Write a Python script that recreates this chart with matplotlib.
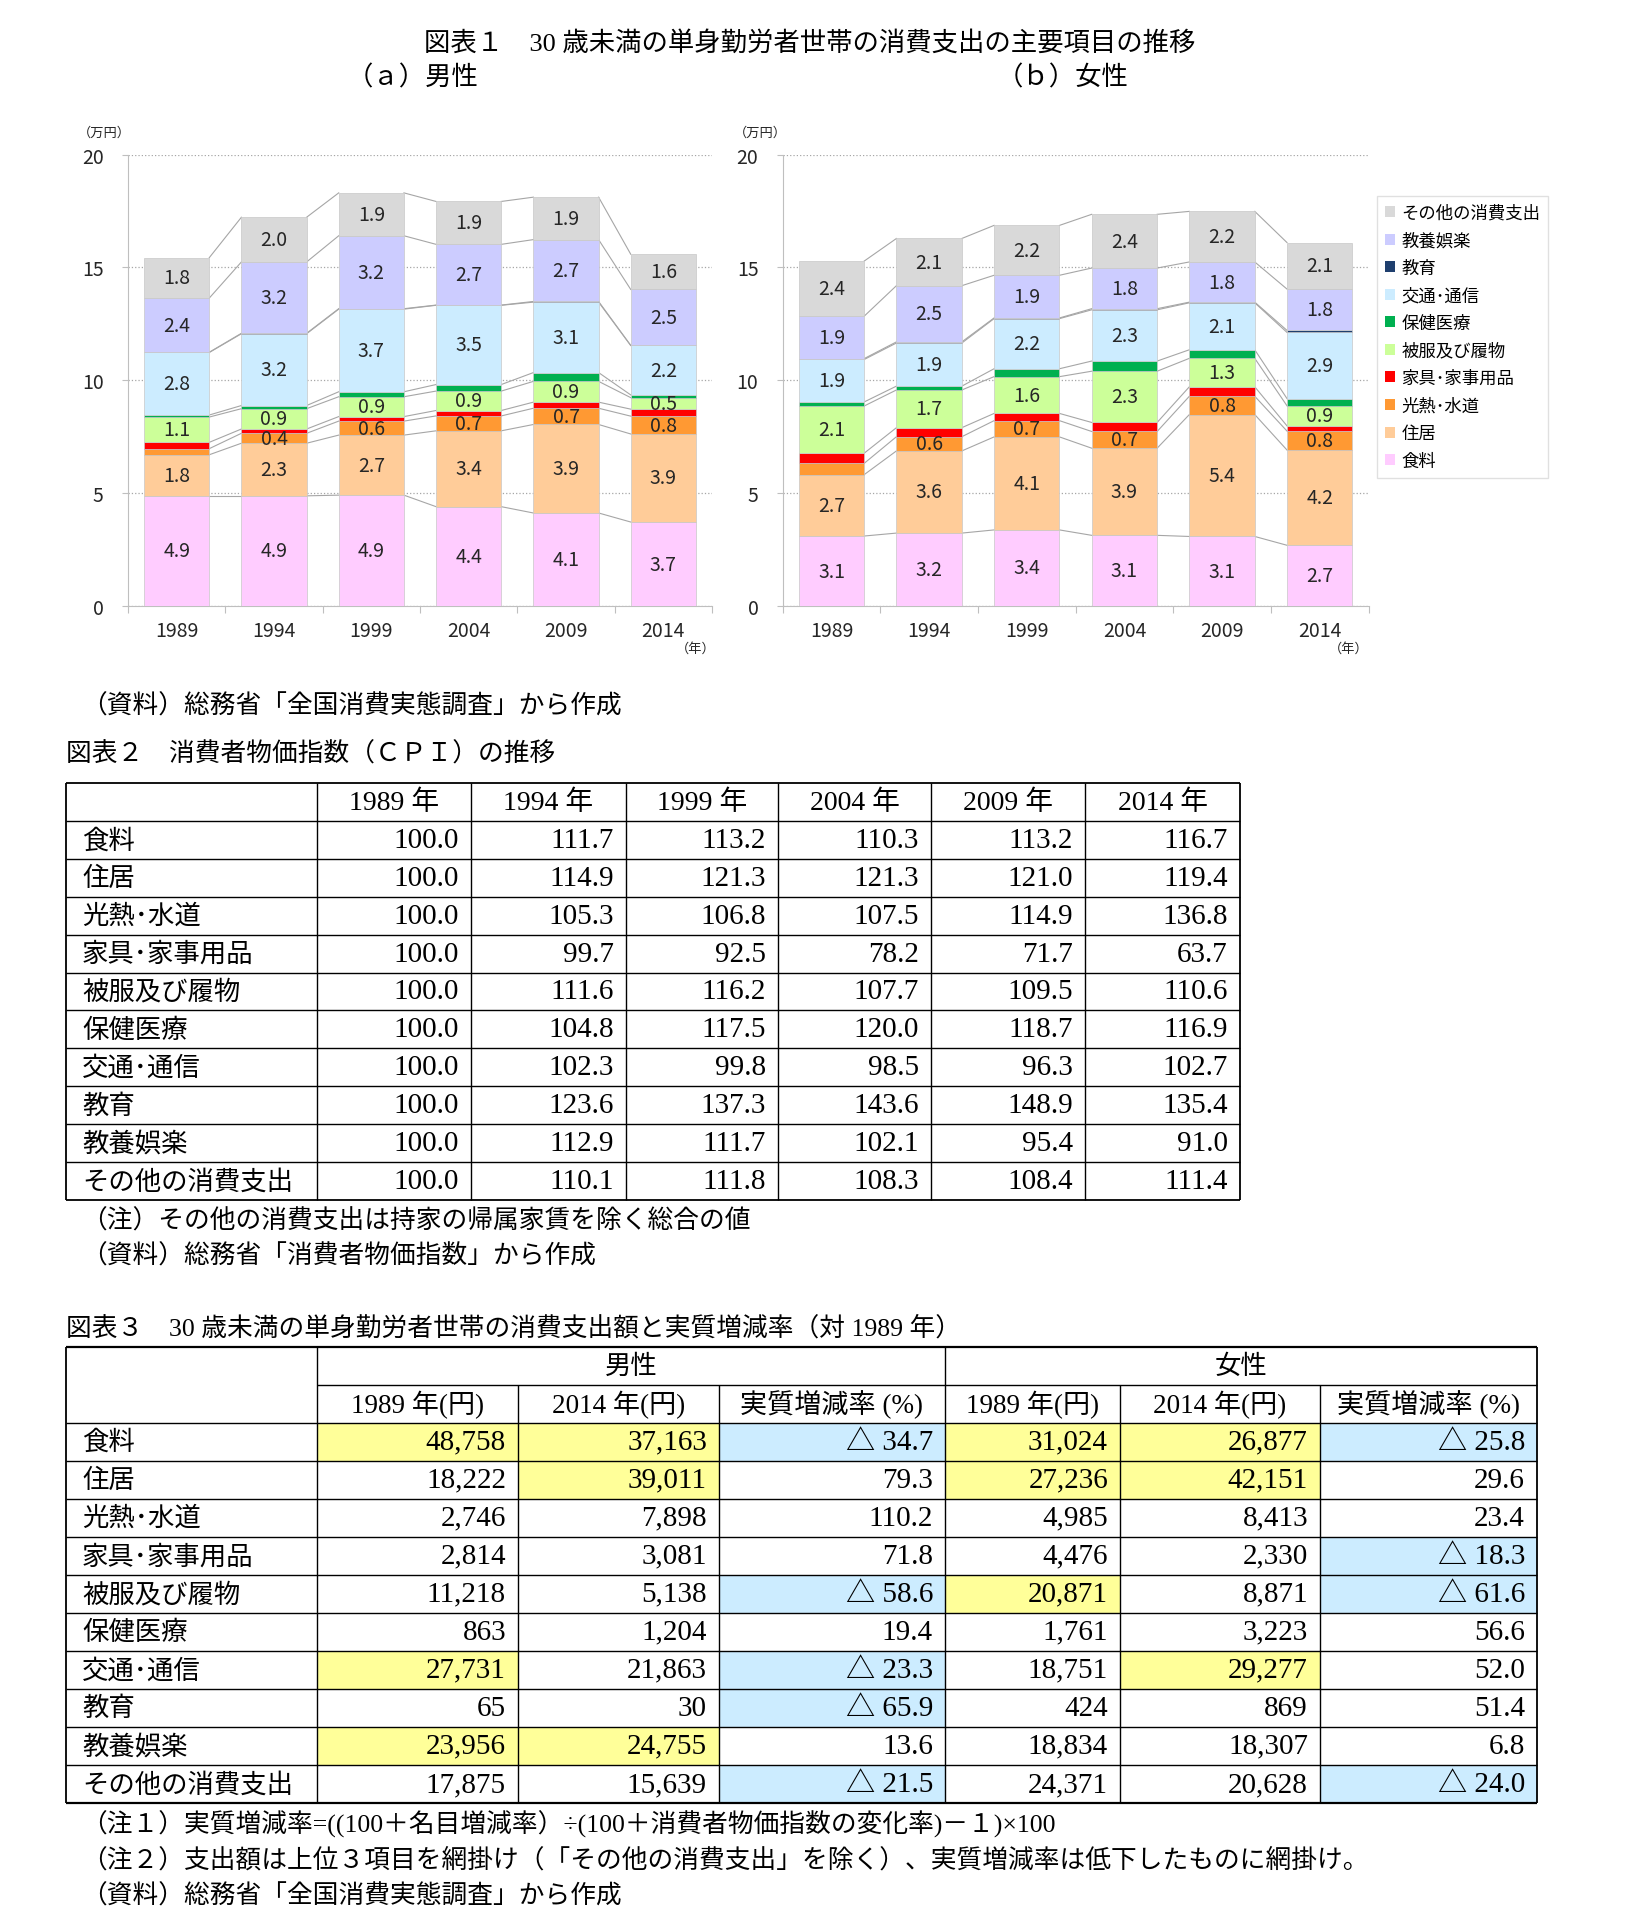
import numpy as np
import matplotlib
matplotlib.use('Agg')
import matplotlib.pyplot as plt
from matplotlib.patches import Rectangle, Patch

plt.rcParams['font.family'] = ['Noto Sans CJK JP', 'DejaVu Sans']

# ---- 図表１ データ（万円）----
years = ['1989', '1994', '1999', '2004', '2009', '2014']
items = ['食料', '住居', '光熱･水道', '家具･家事用品', '被服及び履物',
         '保健医療', '交通･通信', '教育', '教養娯楽', 'その他の消費支出']
colors = ['#FFCCFF', '#FFCC99', '#FF9933', '#FF0000', '#CCFF99',
          '#00B050', '#CCECFF', '#1F3F6E', '#CCCCFF', '#D9D9D9']

male_food = [4.88, 4.88, 4.91, 4.40, 4.12, 3.72]
male_housing = [1.82, 2.33, 2.66, 3.36, 3.92, 3.90]
male_utility = [0.27, 0.44, 0.62, 0.66, 0.72, 0.79]
male_furniture = [0.28, 0.19, 0.20, 0.24, 0.27, 0.31]
male_clothing = [1.12, 0.90, 0.88, 0.86, 0.92, 0.51]
male_health = [0.09, 0.14, 0.22, 0.29, 0.39, 0.12]
male_transport = [2.77, 3.18, 3.66, 3.51, 3.12, 2.19]
male_education = [0.01, 0.02, 0.02, 0.01, 0.03, 0.003]
male_culture = [2.40, 3.16, 3.23, 2.69, 2.74, 2.48]
male_other = [1.79, 1.98, 1.90, 1.90, 1.88, 1.56]

female_food = [3.10, 3.23, 3.37, 3.13, 3.08, 2.69]
female_housing = [2.72, 3.64, 4.12, 3.86, 5.40, 4.22]
female_utility = [0.50, 0.63, 0.72, 0.74, 0.81, 0.84]
female_furniture = [0.45, 0.40, 0.32, 0.40, 0.42, 0.23]
female_clothing = [2.09, 1.67, 1.63, 2.27, 1.26, 0.89]
female_health = [0.18, 0.17, 0.35, 0.45, 0.38, 0.32]
female_transport = [1.88, 1.91, 2.22, 2.27, 2.08, 2.93]
female_education = [0.04, 0.05, 0.03, 0.05, 0.03, 0.09]
female_culture = [1.88, 2.49, 1.89, 1.80, 1.78, 1.83]
female_other = [2.44, 2.09, 2.21, 2.38, 2.24, 2.06]

male = [male_food, male_housing, male_utility, male_furniture, male_clothing,
        male_health, male_transport, male_education, male_culture, male_other]
female = [female_food, female_housing, female_utility, female_furniture, female_clothing,
          female_health, female_transport, female_education, female_culture, female_other]

# ラベルを出す系列（1989年の光熱・水道は無し）
labeled = ['食料', '住居', '光熱･水道', '被服及び履物', '交通･通信', '教養娯楽', 'その他の消費支出']
hidden = [('光熱･水道', 0)]

# ---- 図表２ CPI ----
cpi_years = ['1989 年', '1994 年', '1999 年', '2004 年', '2009 年', '2014 年']
cpi_1989 = [100.0] * 10
cpi_1994 = [111.7, 114.9, 105.3, 99.7, 111.6, 104.8, 102.3, 123.6, 112.9, 110.1]
cpi_1999 = [113.2, 121.3, 106.8, 92.5, 116.2, 117.5, 99.8, 137.3, 111.7, 111.8]
cpi_2004 = [110.3, 121.3, 107.5, 78.2, 107.7, 120.0, 98.5, 143.6, 102.1, 108.3]
cpi_2009 = [113.2, 121.0, 114.9, 71.7, 109.5, 118.7, 96.3, 148.9, 95.4, 108.4]
cpi_2014 = [116.7, 119.4, 136.8, 63.7, 110.6, 116.9, 102.7, 135.4, 91.0, 111.4]

# ---- 図表３ 支出額と実質増減率 ----
m_1989 = [48758, 18222, 2746, 2814, 11218, 863, 27731, 65, 23956, 17875]
m_2014 = [37163, 39011, 7898, 3081, 5138, 1204, 21863, 30, 24755, 15639]
m_rate = [-34.7, 79.3, 110.2, 71.8, -58.6, 19.4, -23.3, -65.9, 13.6, -21.5]
f_1989 = [31024, 27236, 4985, 4476, 20871, 1761, 18751, 424, 18834, 24371]
f_2014 = [26877, 42151, 8413, 2330, 8871, 3223, 29277, 869, 18307, 20628]
f_rate = [-25.8, 29.6, 23.4, -18.3, -61.6, 56.6, 52.0, 51.4, 6.8, -24.0]

W, H = 1637, 1924
fig = plt.figure(figsize=(W / 100, H / 100), dpi=100)

# 全体のテキスト・表用の軸（ピクセル座標）
tax = fig.add_axes([0, 0, 1, 1])
tax.set_xlim(0, W)
tax.set_ylim(H, 0)
tax.axis('off')

SERIF = ['Liberation Serif', 'Noto Sans CJK JP']
JP = ['Noto Sans CJK JP']

BW = 0.67


def draw_stack(ax, series):
    x = np.arange(len(years))
    bottom = np.zeros(len(years))
    tops = []
    for k, vals in enumerate(series):
        vals = np.array(vals, dtype=float)
        ax.bar(x, vals, width=BW, bottom=bottom, color=colors[k],
               edgecolor='#c8c8c8', linewidth=0.5, zorder=3)
        for i, v in enumerate(vals):
            if items[k] in labeled and (items[k], i) not in hidden:
                ax.text(x[i], bottom[i] + v / 2, f'{v:.1f}', ha='center', va='center',
                        fontsize=14, color='#262626', zorder=5)
        bottom = bottom + vals
        tops.append(bottom.copy())
    # 区分線
    for t in tops:
        for i in range(len(x) - 1):
            ax.plot([x[i] + BW / 2, x[i + 1] - BW / 2], [t[i], t[i + 1]],
                    color='#a6a6a6', lw=0.8, zorder=2)
    ax.set_xlim(-0.5, len(years) - 0.5)
    ax.set_ylim(0, 20)
    ax.set_yticks([0, 5, 10, 15, 20])
    ax.set_xticks(x)
    ax.set_xticklabels(years)
    ax.set_xticks(np.arange(-0.5, len(years)), minor=True)
    ax.tick_params(axis='x', which='major', length=0, pad=10, labelsize=14, labelcolor='#262626')
    ax.tick_params(axis='x', which='minor', length=5, color='#bfbfbf', width=0.8)
    ax.tick_params(axis='y', length=4.5, color='#bfbfbf', width=0.8, pad=13,
                   labelsize=14, labelcolor='#262626')
    for s in ['top', 'right']:
        ax.spines[s].set_visible(False)
    for s in ['left', 'bottom']:
        ax.spines[s].set_color('#bfbfbf')
        ax.spines[s].set_linewidth(0.8)
    ax.yaxis.grid(True, linestyle=':', color='#a6a6a6', linewidth=0.9, zorder=0)
    ax.set_axisbelow(True)


ax1 = fig.add_axes([128 / W, 1 - 607 / H, (712 - 128) / W, (607 - 155.5) / H])
draw_stack(ax1, male)
ax2 = fig.add_axes([782.7 / W, 1 - 607 / H, (1368.5 - 782.7) / W, (607 - 155.5) / H])
draw_stack(ax2, female)

for x0, x1 in [(104, 696), (760, 1349)]:
    tax.text(x0, 133, '（万円）', ha='center', va='center', fontsize=9.5, color='#262626')
    tax.text(x1, 649, '（年）', ha='center', va='center', fontsize=9.5, color='#262626')

handles = [Patch(facecolor=colors[k], edgecolor='none', label=items[k]) for k in range(len(items))][::-1]
fig.legend(handles=handles, loc='upper left', bbox_to_anchor=(1377 / W, 1 - 197 / H),
           fontsize=12.5, frameon=True, fancybox=False, edgecolor='#d9d9d9',
           handlelength=0.6, handleheight=0.6, handletextpad=0.35, labelspacing=0.55,
           borderpad=0.45, borderaxespad=0)

# ---- 見出し ----
tax.text(810, 43, '図表１　30 歳未満の単身勤労者世帯の消費支出の主要項目の推移',
         ha='center', va='center', fontsize=19, family=SERIF)
tax.text(413, 78, '（ａ）男性', ha='center', va='center', fontsize=19, family=SERIF)
tax.text(1063, 78, '（ｂ）女性', ha='center', va='center', fontsize=19, family=SERIF)
tax.text(81, 706, '（資料）総務省「全国消費実態調査」から作成', ha='left', va='center',
         fontsize=18.5, family=SERIF)
tax.text(66, 754, '図表２　消費者物価指数（ＣＰＩ）の推移', ha='left', va='center',
         fontsize=18.5, family=SERIF)


def hline(y, x0, x1, lw=1.0):
    tax.plot([x0, x1], [y, y], color='black', lw=lw, solid_capstyle='butt')


def vline(x, y0, y1, lw=1.0):
    tax.plot([x, x], [y0, y1], color='black', lw=lw, solid_capstyle='butt')


# ---- 図表２ 表 ----
cols2 = [66, 317, 471, 626, 778, 931, 1085, 1240]
top2 = 784
rh2 = 37.9
cpi_cols = [cpi_1989, cpi_1994, cpi_1999, cpi_2004, cpi_2009, cpi_2014]
n2 = len(items) + 1
for r in range(n2 + 1):
    hline(top2 + r * rh2, cols2[0], cols2[-1], 1.3 if r in (0, n2) else 1.0)
for c, xc in enumerate(cols2):
    vline(xc, top2, top2 + n2 * rh2, 1.3 if c in (0, len(cols2) - 1) else 1.0)
for j, lab in enumerate(cpi_years):
    tax.text((cols2[j + 1] + cols2[j + 2]) / 2, top2 + rh2 / 2, lab, ha='center', va='center',
             fontsize=20, family=SERIF)
for i, name in enumerate(items):
    yc = top2 + (i + 1.5) * rh2
    tax.text(cols2[0] + 16, yc, name, ha='left', va='center', fontsize=19, family=JP)
    for j, col in enumerate(cpi_cols):
        tax.text(cols2[j + 2] - 12, yc, f'{col[i]:.1f}', ha='right', va='center',
                 fontsize=21, family=SERIF)

tax.text(81, 1221, '（注）その他の消費支出は持家の帰属家賃を除く総合の値', ha='left', va='center',
         fontsize=18.5, family=SERIF)
tax.text(81, 1256, '（資料）総務省「消費者物価指数」から作成', ha='left', va='center',
         fontsize=18.5, family=SERIF)
tax.text(66, 1328, '図表３　30 歳未満の単身勤労者世帯の消費支出額と実質増減率（対 1989 年）',
         ha='left', va='center', fontsize=18.5, family=SERIF)

# ---- 図表３ 表 ----
cols3 = [66, 317, 518, 719, 945, 1120, 1320, 1537]
top3 = 1347.5
hh3 = 38.0
rh3 = 38.04
data_top = top3 + 2 * hh3
bot3 = data_top + len(items) * rh3
yellow = '#FFFF99'
blue = '#CCECFF'

table_cols = [m_1989, m_2014, m_rate, f_1989, f_2014, f_rate]
for j, col in enumerate(table_cols):
    is_rate = j in (2, 5)
    if not is_rate:
        ranked = sorted(col[:-1], reverse=True)[:3]
    for i, v in enumerate(col):
        y0 = data_top + i * rh3
        fill = None
        if is_rate and v < 0:
            fill = blue
        elif not is_rate and i < len(col) - 1 and v in ranked:
            fill = yellow
        if fill:
            tax.add_patch(Rectangle((cols3[j + 1], y0), cols3[j + 2] - cols3[j + 1], rh3,
                                    facecolor=fill, edgecolor='none', zorder=1))
        if is_rate:
            s = f'△ {abs(v):.1f}' if v < 0 else f'{v:.1f}'
        else:
            s = f'{v:,}'
        tax.text(cols3[j + 2] - 12, y0 + rh3 / 2, s, ha='right', va='center',
                 fontsize=21, family=SERIF, zorder=3)

for i, name in enumerate(items):
    tax.text(cols3[0] + 16, data_top + (i + 0.5) * rh3, name, ha='left', va='center',
             fontsize=19, family=JP)

tax.text((cols3[1] + cols3[4]) / 2, top3 + hh3 / 2, '男性', ha='center', va='center',
         fontsize=19, family=JP)
tax.text((cols3[4] + cols3[7]) / 2, top3 + hh3 / 2, '女性', ha='center', va='center',
         fontsize=19, family=JP)
sub_heads = ['1989 年(円)', '2014 年(円)', '実質増減率 (%)'] * 2
for j, s in enumerate(sub_heads):
    tax.text((cols3[j + 1] + cols3[j + 2]) / 2, top3 + 1.5 * hh3, s, ha='center', va='center',
             fontsize=19.5, family=SERIF)

hline(top3, cols3[0], cols3[-1], 1.6)
hline(top3 + hh3, cols3[1], cols3[-1])
for r in range(len(items) + 1):
    yy = data_top + r * rh3
    hline(yy, cols3[0], cols3[-1], 1.6 if r == len(items) else 1.0)
for c in [0, 1, 4, 7]:
    vline(cols3[c], top3, bot3, 1.3 if c in (0, 7) else 1.0)
for c in [2, 3, 5, 6]:
    vline(cols3[c], top3 + hh3, bot3)

notes = ['（注１）実質増減率=((100＋名目増減率）÷(100＋消費者物価指数の変化率)－１)×100',
         '（注２）支出額は上位３項目を網掛け（「その他の消費支出」を除く）、実質増減率は低下したものに網掛け。',
         '（資料）総務省「全国消費実態調査」から作成']
for k, s in enumerate(notes):
    tax.text(81, 1824 + k * 36.2, s, ha='left', va='center', fontsize=18.5, family=SERIF)

fig.savefig('out.png', dpi=100)
